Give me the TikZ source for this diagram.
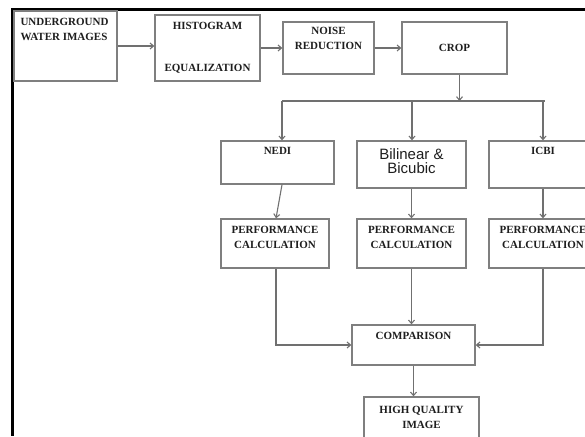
\documentclass[tikz,border=0pt]{standalone}
\usepackage{fontspec}
\setmainfont{Liberation Serif}
\newfontfamily\sansfam{Liberation Sans}
\usetikzlibrary{arrows.meta,calc}
\definecolor{boxgray}{HTML}{7F7F7F}
\definecolor{linegray}{HTML}{707070}
\definecolor{txtcol}{HTML}{1E1E1E}
\begin{document}
\begin{tikzpicture}[x=1pt,y=-1pt,
  box/.style={draw=boxgray,line width=1.3pt,inner sep=0pt,fill=white,text=txtcol,
    font=\bfseries\fontsize{11}{14.5}\selectfont,align=center},
  lbl/.style={inner sep=0pt,text=txtcol,font=\bfseries\fontsize{11}{14.5}\selectfont,align=center},
  toplbl/.style={lbl,anchor=north,yshift=-#1},
  conn/.style={draw=linegray,line width=1.1pt,-{Straight Barb[length=3.5pt,width=6pt]}},
  plainline/.style={draw=linegray,line width=1.1pt}]
\useasboundingbox (0,0) rectangle (585,436);
\clip (0,0) rectangle (585,436);
\fill[white] (0,0) rectangle (585,436);

% frame
\draw[line width=3pt] (585,9.5) -- (12,9.5) -- (12,436);

% boxes
\node[box,minimum width=103pt,minimum height=70pt,
  label={[lbl,align=left,anchor=north west,xshift=7pt,yshift=-8pt]north west:{UNDERGROUND\\WATER IMAGES}}]
  (uwi) at (65.5,46) {};
\node[box,minimum width=105pt,minimum height=66pt,
  label={[toplbl=8pt]north:HISTOGRAM},
  label={[lbl,anchor=base,yshift=10pt]south:EQUALIZATION}]
  (he) at (207.5,48) {};
\node[box,minimum width=91pt,minimum height=52pt,
  label={[toplbl=6pt]north:{NOISE\\REDUCTION}}]
  (nr) at (328.5,48) {};
\node[box,minimum width=105pt,minimum height=52pt] (crop) at (454.5,48) {CROP};

\node[box,minimum width=113pt,minimum height=43pt,
  label={[toplbl=7pt]north:NEDI}] (nedi) at (277.5,162.5) {};
\node[box,minimum width=109pt,minimum height=47pt,
  label={[lbl,anchor=north,yshift=-8pt,font=\sansfam\fontsize{15}{14.5}\selectfont]north:{Bilinear \&\\Bicubic}}]
  (bb) at (411.5,164.5) {};
\node[box,minimum width=108pt,minimum height=47pt,
  label={[toplbl=7pt]north:ICBI}] (icbi) at (543,164.5) {};

\node[box,minimum width=108pt,minimum height=49pt,
  label={[toplbl=8pt]north:{PERFORMANCE\\CALCULATION}}] (p1) at (275,243.5) {};
\node[box,minimum width=109pt,minimum height=49pt,
  label={[toplbl=8pt]north:{PERFORMANCE\\CALCULATION}}] (p2) at (411.5,243.5) {};
\node[box,minimum width=108pt,minimum height=49pt,
  label={[toplbl=8pt]north:{PERFORMANCE\\CALCULATION}}] (p3) at (543,243.5) {};

\node[box,minimum width=123pt,minimum height=40pt,
  label={[toplbl=8pt]north:COMPARISON}] (cmp) at (413.5,345) {};
\node[box,minimum width=115pt,minimum height=50pt,
  label={[toplbl=10pt]north:{HIGH QUALITY\\IMAGE}}] (hq) at (421.5,422) {};

% connectors
\draw[conn] (uwi.east) -- (uwi.east -| he.west);
\draw[conn] (he.east) -- (nr.west);
\draw[conn] (nr.east) -- (crop.west);

\coordinate (cropout) at ($(crop.south)+(5,0)$);
\coordinate (busL) at (282,101);
\coordinate (busM) at (412,101);
\coordinate (busR) at (543,101);
\coordinate (busE) at (545,101);
\draw[conn] (cropout) -- (cropout |- busL);
\draw[plainline] (busL) -- (busE);
\draw[conn] (busL) -- (busL |- nedi.north);
\draw[conn] (busM) -- (busM |- bb.north);
\draw[conn] (busR) -- (icbi.north);

\draw[conn] ($(nedi.south)+(4.5,0)$) -- ($(p1.north)+(1,0)$);
\draw[conn] (bb.south) -- (p2.north);
\draw[conn] (icbi.south) -- (p3.north);

\draw[conn] ($(p1.south)+(1,0)$) |- (cmp.west);
\draw[conn] (p2.south) -- (p2.south |- cmp.north);
\draw[conn] (p3.south) |- (cmp.east);
\draw[conn] (cmp.south) -- (cmp.south |- hq.north);
\end{tikzpicture}
\end{document}
